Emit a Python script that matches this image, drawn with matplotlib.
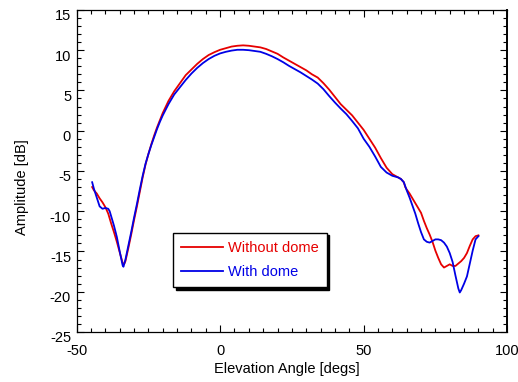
import matplotlib
matplotlib.use("Agg")
import matplotlib.pyplot as plt
from matplotlib.ticker import MultipleLocator
import matplotlib.transforms as mtransforms

plt.rcParams['font.family'] = ['Liberation Sans', 'DejaVu Sans']
plt.rcParams['axes.unicode_minus'] = False

# Without dome (red)
red_x = [-44.6, -44, -43, -42, -41, -40, -39, -38, -37, -36, -35, -34, -33.5, -33, -32, -31, -30,
         -29, -28, -27, -26, -25, -24, -23, -22, -21, -20, -18, -16, -14, -12, -10, -8, -6, -4,
         -2, 0, 2, 4, 6, 8, 10, 12, 14, 16, 18, 20, 22, 24, 26, 28, 30, 32, 34, 36, 38, 40,
         42, 44, 46, 48, 50, 52, 54, 56, 58, 60, 62, 63, 64, 64.5, 65, 66, 67, 68, 69, 70,
         71, 72, 73, 74, 75, 76, 77, 78, 79, 80, 81, 82, 83, 84, 85, 86, 87, 88, 89, 90]
red_y = [-7.0, -7.4, -7.8, -8.4, -8.9, -9.5, -10.3, -11.5, -12.6, -13.8, -15.1, -16.4, -16.6, -16.2,
         -14.6, -12.9, -11.1, -9.4, -7.6, -5.8, -4.2, -2.9, -1.7, -0.6, 0.4, 1.3, 2.2, 3.7, 4.9,
         5.9, 6.9, 7.6, 8.3, 8.9, 9.4, 9.75, 10.05, 10.25, 10.45, 10.55, 10.6, 10.55, 10.45,
         10.35, 10.15, 9.85, 9.55, 9.1, 8.7, 8.3, 7.9, 7.5, 7.0, 6.6, 5.9, 5.1, 4.2, 3.3, 2.6,
         1.9, 1.0, 0.1, -1.0, -2.1, -3.4, -4.6, -5.4, -5.8, -6.0, -6.4, -7.0, -7.3, -7.8, -8.4,
         -9.0, -9.6, -10.2, -11.2, -12.1, -12.9, -13.8, -14.9, -15.8, -16.6, -17.0, -16.8,
         -16.6, -16.8, -16.8, -16.5, -16.2, -15.8, -15.2, -14.3, -13.5, -13.1, -13.0]

# With dome (blue)
blue_x = [-44.6, -44, -43, -42, -41, -40, -39, -38.5, -38, -37, -36, -35, -34, -33.7, -33, -32,
          -31, -30, -29, -28, -27, -26, -25, -24, -23, -22, -21, -20, -18, -16, -14, -12, -10,
          -8, -6, -4, -2, 0, 2, 4, 6, 8, 10, 12, 14, 16, 18, 20, 22, 24, 26, 28, 30, 32, 34,
          36, 38, 40, 42, 44, 46, 48, 50, 52, 54, 56, 58, 60, 62, 63, 64, 65, 66, 67, 68, 69,
          70, 71, 72, 73, 74, 75, 76, 77, 78, 79, 80, 81, 82, 83, 83.5, 84, 85, 86, 87, 88, 89, 90]
blue_y = [-6.4, -7.2, -8.3, -9.4, -9.7, -9.6, -9.7, -10.0, -10.6, -11.8, -13.2, -15.0, -16.7, -16.9,
          -16.0, -14.3, -12.6, -10.8, -9.1, -7.3, -5.6, -4.1, -2.9, -1.8, -0.8, 0.2, 1.1, 1.9,
          3.3, 4.5, 5.4, 6.3, 7.1, 7.8, 8.4, 8.9, 9.3, 9.6, 9.8, 9.95, 10.05, 10.05, 10.0, 9.9,
          9.8, 9.55, 9.25, 8.9, 8.5, 8.05, 7.65, 7.25, 6.8, 6.35, 5.85, 5.15, 4.3, 3.5, 2.75,
          2.05, 1.2, 0.3, -1.0, -2.0, -3.2, -4.5, -5.2, -5.6, -5.8, -6.0, -6.4, -7.4, -8.3,
          -9.3, -10.3, -11.5, -12.6, -13.5, -13.8, -13.9, -13.7, -13.5, -13.5, -13.6, -13.9,
          -14.4, -15.2, -16.3, -18.0, -19.6, -20.1, -19.8, -19.0, -18.1, -16.5, -14.9, -13.5, -13.1]

labels = ['Without dome', 'With dome']
colors = ['#e60000', '#0000e6']
xticks = [-50, 0, 50, 100]
yticks = [15, 10, 5, 0, -5, -10, -15, -20, -25]

fig = plt.figure(figsize=(5.18, 3.82), dpi=100)
ax = fig.add_axes([0.148, 0.131, 0.831, 0.843])

ax.plot(red_x, red_y, color=colors[0], lw=1.3, label=labels[0])
ax.plot(blue_x, blue_y, color=colors[1], lw=1.3, label=labels[1])

ax.set_xlim(-50, 100)
ax.set_ylim(-25, 15)
ax.set_xticks(xticks)
ax.set_yticks(yticks)
ax.xaxis.set_minor_locator(MultipleLocator(5))
ax.yaxis.set_minor_locator(MultipleLocator(1))
ax.tick_params(which='both', direction='in', top=True, right=True, labelsize=10.5, width=0.8)
ax.tick_params(which='major', length=5)
ax.tick_params(which='minor', length=3)
ax.tick_params(axis='x', which='major', pad=9)
ax.tick_params(axis='y', which='major', pad=4)
for s in ax.spines.values():
    s.set_linewidth(0.9)
ax.spines['right'].set_linewidth(1.4)

offset = mtransforms.ScaledTranslation(0, -5 / 100, fig.dpi_scale_trans)
for lab in ax.get_yticklabels():
    lab.set_transform(lab.get_transform() + offset)

ax.set_xlabel('Elevation Angle [degs]', fontsize=10.5)
ax.set_ylabel('Amplitude [dB]', fontsize=10.5)
ax.xaxis.set_label_coords(0.489, -0.093)
ax.yaxis.set_label_coords(-0.11, 0.45)

leg = ax.legend(loc='lower left', bbox_to_anchor=(0.224, 0.140), borderaxespad=0,
                fontsize=10.5, handlelength=2.9, handletextpad=0.3, labelspacing=0.7,
                borderpad=0.55, fancybox=False, edgecolor='black', framealpha=1,
                labelcolor='linecolor', shadow={'color': 'black', 'alpha': 1})
leg.get_frame().set_linewidth(1.0)

fig.savefig('out.png', dpi=100)
